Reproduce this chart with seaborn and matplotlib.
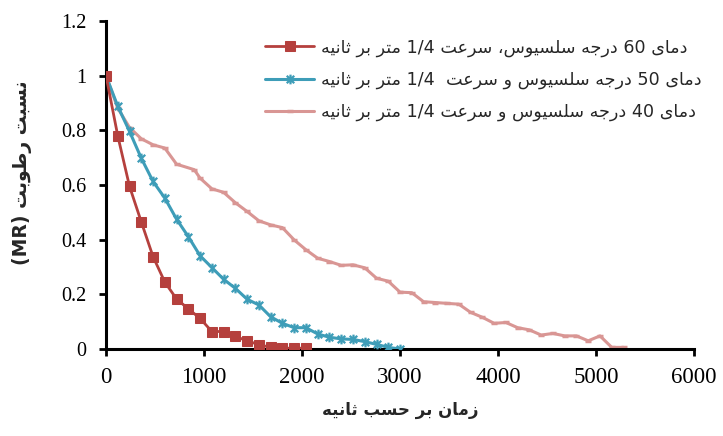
import re
import pandas as pd
import matplotlib
matplotlib.use('Agg')
import matplotlib.pyplot as plt
from matplotlib.path import Path
import seaborn as sns

# داده ها (خوانده شده از نمودار)
t_60 = [0, 120, 240, 360, 480, 600, 720, 840, 960, 1080, 1200, 1320, 1440,
        1560, 1680, 1800, 1920, 2040]
mr_60 = [1.0, 0.78, 0.595, 0.465, 0.338, 0.245, 0.183, 0.147, 0.112, 0.064,
         0.064, 0.046, 0.030, 0.016, 0.006, 0.003, 0.003, 0.003]

t_50 = [0, 120, 240, 360, 480, 600, 720, 840, 960, 1080, 1200, 1320, 1440,
        1560, 1680, 1800, 1920, 2040, 2160, 2280, 2400, 2520, 2640, 2760,
        2880, 3000]
mr_50 = [1.0, 0.888, 0.796, 0.698, 0.613, 0.552, 0.475, 0.411, 0.341, 0.298,
         0.255, 0.222, 0.182, 0.161, 0.118, 0.094, 0.078, 0.078, 0.055, 0.043,
         0.037, 0.035, 0.027, 0.017, 0.006, 0.0]

t_40 = [0, 120, 240, 360, 480, 600, 720, 900, 960, 1080, 1200, 1320, 1440,
        1560, 1680, 1800, 1920, 2040, 2160, 2280, 2400, 2520, 2640, 2760,
        2880, 3000, 3120, 3240, 3360, 3480, 3600, 3720, 3840, 3960, 4080,
        4200, 4320, 4440, 4560, 4680, 4800, 4920, 5040, 5160, 5280]
mr_40 = [1.0, 0.881, 0.81, 0.769, 0.747, 0.735, 0.676, 0.656, 0.625, 0.586,
         0.573, 0.535, 0.503, 0.469, 0.454, 0.444, 0.399, 0.363, 0.332, 0.32,
         0.306, 0.308, 0.297, 0.259, 0.248, 0.208, 0.206, 0.173, 0.17, 0.167,
         0.164, 0.134, 0.116, 0.094, 0.097, 0.078, 0.07, 0.051, 0.057, 0.048,
         0.048, 0.03, 0.048, 0.006, 0.006]

labels = ['دمای 60 درجه سلسیوس، سرعت 1/4 متر بر ثانیه',
          'دمای 50 درجه سلسیوس و سرعت  1/4 متر بر ثانیه',
          'دمای 40 درجه سلسیوس و سرعت 1/4 متر بر ثانیه']
x_label = 'زمان بر حسب ثانیه'
y_label = 'نسبت رطوبت (MR)'
x_ticks = [0, 1000, 2000, 3000, 4000, 5000, 6000]
y_ticks = [0, 0.2, 0.4, 0.6, 0.8, 1.0, 1.2]
y_ticklabels = ['0', '0.2', '0.4', '0.6', '0.8', '1', '1.2']

# matplotlib حروف عربی/فارسی را به هم نمی چسباند، پس شکل حروف را خودمان می سازیم
FORMS = {
    'ا': ('\uFE8D', '\uFE8E', None, None),
    'ب': ('\uFE8F', '\uFE90', '\uFE91', '\uFE92'),
    'ت': ('\uFE95', '\uFE96', '\uFE97', '\uFE98'),
    'ث': ('\uFE99', '\uFE9A', '\uFE9B', '\uFE9C'),
    'ج': ('\uFE9D', '\uFE9E', '\uFE9F', '\uFEA0'),
    'ح': ('\uFEA1', '\uFEA2', '\uFEA3', '\uFEA4'),
    'د': ('\uFEA9', '\uFEAA', None, None),
    'ر': ('\uFEAD', '\uFEAE', None, None),
    'ز': ('\uFEAF', '\uFEB0', None, None),
    'س': ('\uFEB1', '\uFEB2', '\uFEB3', '\uFEB4'),
    'ط': ('\uFEC1', '\uFEC2', '\uFEC3', '\uFEC4'),
    'ع': ('\uFEC9', '\uFECA', '\uFECB', '\uFECC'),
    'ل': ('\uFEDD', '\uFEDE', '\uFEDF', '\uFEE0'),
    'م': ('\uFEE1', '\uFEE2', '\uFEE3', '\uFEE4'),
    'ن': ('\uFEE5', '\uFEE6', '\uFEE7', '\uFEE8'),
    'ه': ('\uFEE9', '\uFEEA', '\uFEEB', '\uFEEC'),
    'و': ('\uFEED', '\uFEEE', None, None),
    'ی': ('\uFEEF', '\uFEF0', '\uFEF3', '\uFEF4'),
}


def fa(s):
    out = []
    for i, ch in enumerate(s):
        if ch not in FORMS:
            out.append(ch)
            continue
        iso, fin, ini, med = FORMS[ch]
        prev = s[i - 1] if i > 0 else ''
        nxt = s[i + 1] if i + 1 < len(s) else ''
        jp = prev in FORMS and FORMS[prev][2] is not None
        jn = ini is not None and nxt in FORMS
        if jp and jn:
            out.append(med)
        elif jp:
            out.append(fin)
        elif jn:
            out.append(ini)
        else:
            out.append(iso)
    tokens = re.findall(r'[A-Za-z0-9/().]+|.', ''.join(out))
    return ''.join(reversed(tokens))


sns.set_style('white')
plt.rcParams['font.family'] = ['Liberation Serif', 'DejaVu Sans']

red = '#B5403D'
blue = '#3E9DB8'
pink = '#D99694'

# نشانگر ستاره (x همراه با خط عمودی)
star = Path([(-1, -1), (1, 1), (-1, 1), (1, -1), (0, -1.3), (0, 1.3)],
            [Path.MOVETO, Path.LINETO, Path.MOVETO, Path.LINETO,
             Path.MOVETO, Path.LINETO])

fig = plt.figure(figsize=(7.23, 4.36), dpi=100)
ax = fig.add_axes([0.1466, 0.1995, 0.8134, 0.7525])

df60 = pd.DataFrame({'t': t_60, 'mr': mr_60})
df50 = pd.DataFrame({'t': t_50, 'mr': mr_50})
df40 = pd.DataFrame({'t': t_40, 'mr': mr_40})

sns.lineplot(data=df60, x='t', y='mr', ax=ax, color=red, lw=2, marker='s',
             markersize=7, markeredgecolor=red, label=fa(labels[0]), zorder=4)
sns.lineplot(data=df50, x='t', y='mr', ax=ax, color=blue, lw=2.2, marker=star,
             markersize=7, markeredgecolor=blue, markeredgewidth=1.6,
             label=fa(labels[1]), zorder=3)
sns.lineplot(data=df40, x='t', y='mr', ax=ax, color=pink, lw=2.2, marker='_',
             markersize=5, markeredgecolor=pink, markeredgewidth=2.5,
             label=fa(labels[2]), zorder=2)

ax.set_xlim(0, 6000)
ax.set_ylim(0, 1.2)
ax.set_xticks(x_ticks)
ax.set_xticklabels([str(v) for v in x_ticks])
ax.set_yticks(y_ticks)
ax.set_yticklabels(y_ticklabels)
ax.tick_params(axis='both', direction='out', length=5, width=2,
               colors='black', bottom=True, left=True)
ax.tick_params(axis='x', labelsize=16.5, pad=8)
ax.tick_params(axis='y', labelsize=14.5, pad=9)
for side in ['top', 'right']:
    ax.spines[side].set_visible(False)
for side in ['left', 'bottom']:
    ax.spines[side].set_linewidth(2.2)
    ax.spines[side].set_color('black')

ax.set_xlabel(fa(x_label), family=['DejaVu Sans'], fontweight='bold',
              fontsize=12)
ax.set_ylabel(fa(y_label), family=['DejaVu Sans'], fontweight='bold',
              fontsize=13.5)
ax.xaxis.set_label_coords(0.5, -0.186)
ax.yaxis.set_label_coords(-0.143, 0.537)
ax.xaxis.label.set_va('center')
ax.yaxis.label.set_va('center')

leg = ax.legend(loc='upper left', frameon=False,
                prop={'family': ['DejaVu Sans'], 'size': 12.6},
                handlelength=2.8, handletextpad=0.4, labelspacing=0.8)
leg.set_bbox_to_anchor((0.345, 0.948), transform=fig.transFigure)

fig.savefig('out.png', dpi=100)
